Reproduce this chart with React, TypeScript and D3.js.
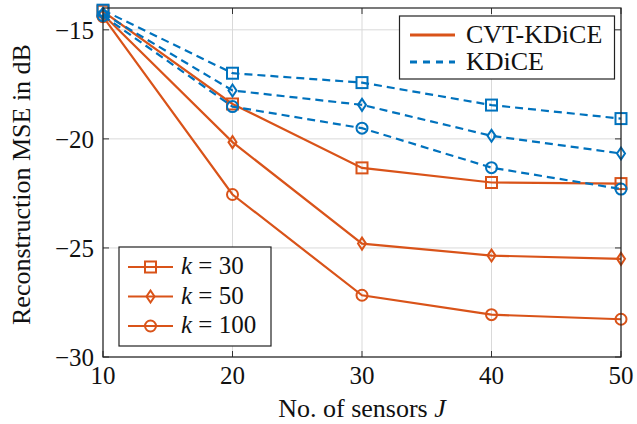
import React from "react";
import * as d3 from "d3";

const sensors = [10, 20, 30, 40, 50];
const cvtK30 = [-14.15, -18.4, -21.33, -22.0, -22.05];
const cvtK50 = [-14.3, -20.15, -24.8, -25.35, -25.5];
const cvtK100 = [-14.4, -22.55, -27.17, -28.06, -28.27];
const kdK30 = [-14.1, -16.99, -17.42, -18.45, -19.07];
const kdK50 = [-14.25, -17.78, -18.44, -19.86, -20.67];
const kdK100 = [-14.35, -18.52, -19.51, -21.32, -22.3];
const xTicks = [10, 20, 30, 40, 50];
const yTicks = [-30, -25, -20, -15];
const kLabels = ["30", "50", "100"];

const ORANGE = "#D95319";
const BLUE = "#0072BD";
const FONT = '"Liberation Serif", "DejaVu Serif", serif';

type Shape = "square" | "diamond" | "circle";

function Marker({ x, y, shape, color }: { x: number; y: number; shape: Shape; color: string }) {
  if (shape === "square")
    return <rect x={x - 5.5} y={y - 5.5} width={11} height={11} fill="none" stroke={color} strokeWidth={2} />;
  if (shape === "diamond")
    return (
      <path d={`M${x},${y - 6}L${x + 4},${y}L${x},${y + 6}L${x - 4},${y}Z`} fill="none" stroke={color} strokeWidth={2} />
    );
  return <circle cx={x} cy={y} r={5.5} fill="none" stroke={color} strokeWidth={2} />;
}

export default function App() {
  const W = 637, H = 424;
  const L = 103, R = 621, T = 8, B = 357;
  const x = d3.scaleLinear().domain([10, 50]).range([L, R]);
  const y = d3.scaleLinear().domain([-30, -14]).range([B, T]);
  const line = d3.line<number>().x((_, i) => x(sensors[i])).y((d) => y(d));

  const series: { vals: number[]; color: string; shape: Shape; dash?: string }[] = [
    { vals: cvtK30, color: ORANGE, shape: "square" },
    { vals: cvtK50, color: ORANGE, shape: "diamond" },
    { vals: cvtK100, color: ORANGE, shape: "circle" },
    { vals: kdK30, color: BLUE, shape: "square", dash: "8 5" },
    { vals: kdK50, color: BLUE, shape: "diamond", dash: "8 5" },
    { vals: kdK100, color: BLUE, shape: "circle", dash: "8 5" },
  ];
  const shapes: Shape[] = ["square", "diamond", "circle"];
  const ts = (size: number, italic = false): React.CSSProperties => ({
    fontFamily: FONT,
    fontSize: size + "px",
    fontStyle: italic ? "italic" : "normal",
  });

  return (
    <svg width={W} height={H} style={{ position: "absolute", left: 0, top: 0, background: "#fff" }}>
      <rect x={0} y={0} width={W} height={H} fill="#fff" />
      {xTicks.map((t) => (
        <line key={"gx" + t} x1={x(t)} x2={x(t)} y1={T} y2={B} stroke="#d9d9d9" strokeWidth={1} />
      ))}
      {yTicks.map((t) => (
        <line key={"gy" + t} x1={L} x2={R} y1={y(t)} y2={y(t)} stroke="#d9d9d9" strokeWidth={1} />
      ))}
      {xTicks.map((t) => (
        <g key={"tx" + t}>
          <line x1={x(t)} x2={x(t)} y1={B} y2={B - 6} stroke="#333" />
          <line x1={x(t)} x2={x(t)} y1={T} y2={T + 6} stroke="#333" />
          <text x={x(t)} y={B + 27} textAnchor="middle" style={ts(25)} fill="#111">
            {t}
          </text>
        </g>
      ))}
      {yTicks.map((t) => (
        <g key={"ty" + t}>
          <line x1={L} x2={L + 6} y1={y(t)} y2={y(t)} stroke="#333" />
          <line x1={R} x2={R - 6} y1={y(t)} y2={y(t)} stroke="#333" />
          <text x={L - 9} y={y(t) + 9} textAnchor="end" style={ts(25)} fill="#111">
            {"\u2212" + Math.abs(t)}
          </text>
        </g>
      ))}
      {series.map((s, i) => (
        <g key={"s" + i}>
          <path d={line(s.vals) || ""} fill="none" stroke={s.color} strokeWidth={2.2} strokeDasharray={s.dash} />
          {s.vals.map((v, j) => (
            <Marker key={j} x={x(sensors[j])} y={y(v)} shape={s.shape} color={s.color} />
          ))}
        </g>
      ))}
      <rect x={L} y={T} width={R - L} height={B - T} fill="none" stroke="#222" strokeWidth={1.2} />
      <rect x={399.5} y={16} width={215} height={63} fill="#fff" stroke="#222" strokeWidth={1.2} />
      <line x1={410} x2={455} y1={35} y2={35} stroke={ORANGE} strokeWidth={2.8} />
      <text x={466} y={43} style={ts(26)} fill="#111">CVT-KDiCE</text>
      <line x1={410} x2={455} y1={62} y2={62} stroke={BLUE} strokeWidth={2.8} strokeDasharray="7 6" />
      <text x={466} y={70} style={ts(26)} fill="#111">KDiCE</text>
      <rect x={119} y={247} width={152} height={99} fill="#fff" stroke="#222" strokeWidth={1.2} />
      {shapes.map((sh, i) => {
        const yy = 267 + i * 29.5;
        return (
          <g key={"lk" + i}>
            <line x1={128} x2={173} y1={yy} y2={yy} stroke={ORANGE} strokeWidth={2.2} />
            <Marker x={150.5} y={yy} shape={sh} color={ORANGE} />
            <text x={181} y={yy + 7} style={ts(25)} fill="#111">
              <tspan style={ts(25, true)}>k</tspan>
              <tspan> = {kLabels[i]}</tspan>
            </text>
          </g>
        );
      })}
      <text x={362} y={417} textAnchor="middle" style={ts(26)} fill="#111">
        No. of sensors <tspan style={ts(26, true)}>J</tspan>
      </text>
      <text
        transform={`translate(30, ${(T + B) / 2 + 2}) rotate(-90)`}
        textAnchor="middle"
        style={ts(26)}
        fill="#111"
      >
        Reconstruction MSE in dB
      </text>
    </svg>
  );
}
